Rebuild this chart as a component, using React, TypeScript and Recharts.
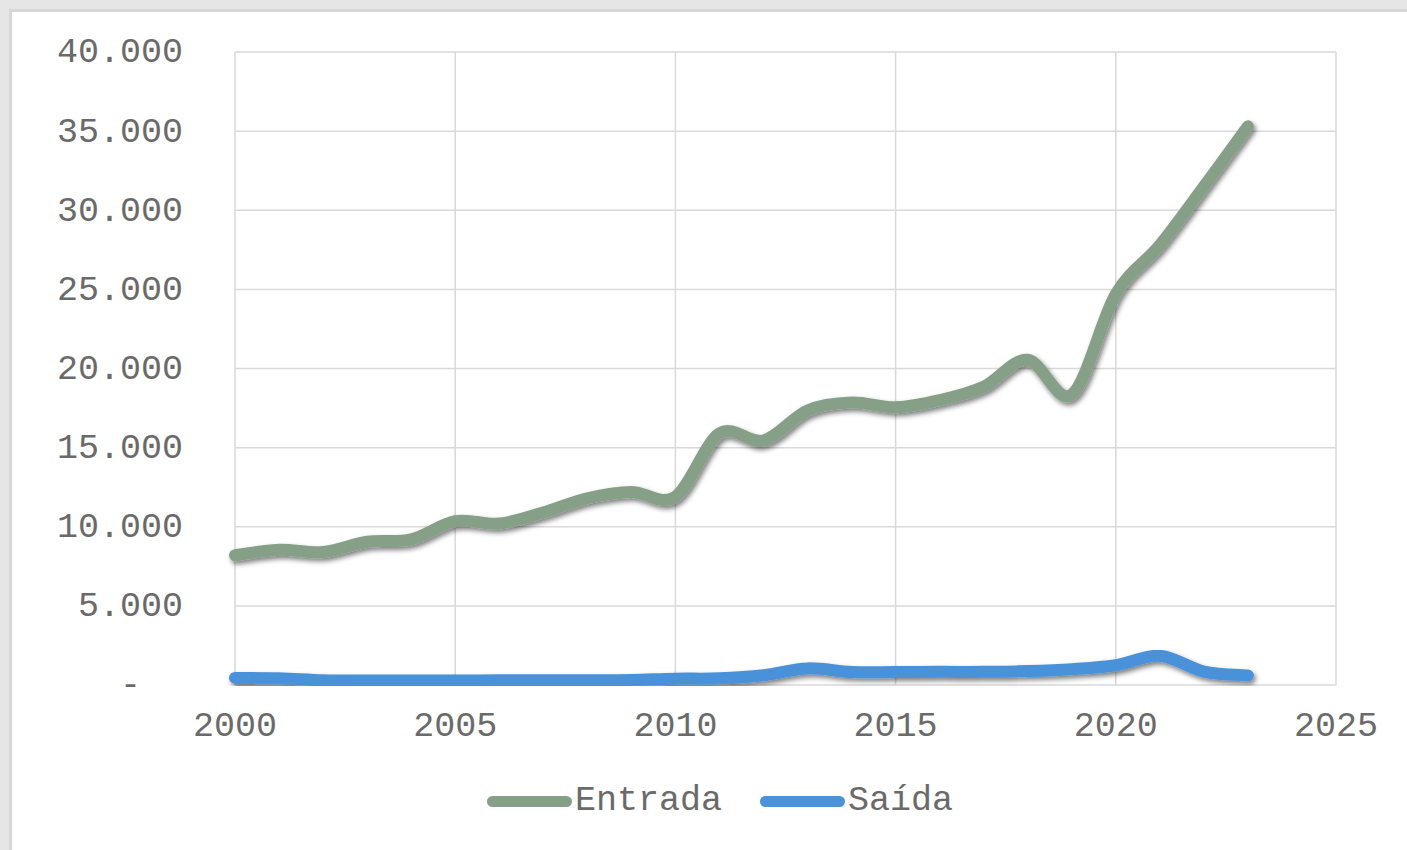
import React from 'react';
import { LineChart, Line, XAxis, YAxis, CartesianGrid, Legend } from 'recharts';

const years = [2000, 2001, 2002, 2003, 2004, 2005, 2006, 2007, 2008, 2009, 2010, 2011, 2012, 2013, 2014, 2015, 2016, 2017, 2018, 2019, 2020, 2021, 2022, 2023];
const entrada = [8200, 8550, 8400, 9050, 9200, 10350, 10200, 10900, 11800, 12200, 11900, 15900, 15450, 17350, 17850, 17550, 18000, 18850, 20550, 18350, 24700, 27800, 31500, 35300];
const saida = [450, 430, 300, 280, 280, 280, 300, 300, 300, 320, 400, 420, 620, 1050, 820, 820, 830, 830, 880, 1000, 1250, 1850, 850, 600];
const xTicks = [2000, 2005, 2010, 2015, 2020, 2025];
const yTicks = [0, 5000, 10000, 15000, 20000, 25000, 30000, 35000, 40000];
const seriesNames = ['Entrada', 'Saída'];
const seriesKeys = ['entrada', 'saida'];
const seriesColors = ['#86a088', '#4a92da'];

const data = years.map((year, i) => ({ year, entrada: entrada[i], saida: saida[i] }));

const FONT = "'Liberation Mono', 'Courier New', monospace";
const TEXT_COLOR = '#6a6a6a';

function smoothCurve(context: any) {
  let pts: number[][] = [];
  return {
    areaStart() {},
    areaEnd() {},
    lineStart() {
      pts = [];
    },
    point(x: number, y: number) {
      pts.push([+x, +y]);
    },
    lineEnd() {
      const n = pts.length;
      if (!n) return;
      context.moveTo(pts[0][0], pts[0][1]);
      if (n === 1) return;
      const k = 1 / 6;
      for (let i = 0; i < n - 1; i++) {
        const p0 = pts[i > 0 ? i - 1 : i];
        const p1 = pts[i];
        const p2 = pts[i + 1];
        const p3 = pts[i + 2 < n ? i + 2 : i + 1];
        context.bezierCurveTo(
          p1[0] + k * (p2[0] - p0[0]),
          p1[1] + k * (p2[1] - p0[1]),
          p2[0] - k * (p3[0] - p1[0]),
          p2[1] - k * (p3[1] - p1[1]),
          p2[0],
          p2[1]
        );
      }
    },
  };
}

const fmtY = (v: number) =>
  v === 0 ? '-\u00A0\u00A0' : String(v).replace(/\B(?=(\d{3})+(?!\d))/g, '.');

const renderLegend = () => (
  <div
    style={{
      display: 'flex',
      alignItems: 'center',
      height: 40,
      fontFamily: FONT,
      fontSize: 35,
      color: TEXT_COLOR,
      lineHeight: '40px',
    }}
  >
    {seriesNames.map((name, i) => (
      <div key={name} style={{ display: 'flex', alignItems: 'center', marginRight: i === 0 ? 38 : 0 }}>
        <div style={{ width: 85, height: 11, borderRadius: 6, background: seriesColors[i], marginRight: 3 }} />
        <span>{name}</span>
      </div>
    ))}
  </div>
);

export default function App() {
  return (
    <div style={{ position: 'absolute', left: 0, top: 0, width: 1407, height: 850, background: '#e6e6e6', overflow: 'hidden' }}>
      <div
        style={{
          position: 'absolute',
          left: 9,
          top: 9,
          width: 1398,
          height: 841,
          background: '#d7d7d7',
        }}
      />
      <div style={{ position: 'absolute', left: 12, top: 12, width: 1395, height: 838, background: '#ffffff' }}>
        <LineChart width={1395} height={838} data={data} margin={{ top: 40, right: 71, left: 0, bottom: 105 }}>
          <defs>
            <filter id="lineShadow" x="-5%" y="-20%" width="110%" height="140%">
              <feDropShadow dx="2" dy="3" stdDeviation="2.5" floodColor="#000000" floodOpacity="0.5" />
            </filter>
          </defs>
          <CartesianGrid stroke="#d9d9d9" strokeWidth={1.5} />
          <XAxis
            dataKey="year"
            type="number"
            domain={[2000, 2025]}
            ticks={xTicks}
            height={60}
            axisLine={false}
            tickLine={false}
            tickSize={0}
            tickMargin={26}
            interval={0}
            tick={{ fill: TEXT_COLOR, fontSize: 35, fontFamily: FONT }}
          />
          <YAxis
            type="number"
            domain={[0, 40000]}
            ticks={yTicks}
            width={223}
            axisLine={false}
            tickLine={false}
            tickSize={0}
            tickMargin={52}
            interval={0}
            tickFormatter={fmtY}
            tick={{ fill: TEXT_COLOR, fontSize: 35, fontFamily: FONT, dy: -2 }}
          />
          <Legend
            layout="vertical"
            align="center"
            verticalAlign="middle"
            wrapperStyle={{ left: 475, top: 769, width: 600, height: 40 }}
            content={renderLegend}
          />
          {seriesKeys.map((key, i) => (
            <Line
              key={key}
              dataKey={key}
              name={seriesNames[i]}
              type={smoothCurve as any}
              stroke={seriesColors[i]}
              strokeWidth={12}
              strokeLinecap="round"
              strokeLinejoin="round"
              dot={false}
              activeDot={false}
              filter="url(#lineShadow)"
              isAnimationActive={false}
            />
          ))}
        </LineChart>
      </div>
    </div>
  );
}
